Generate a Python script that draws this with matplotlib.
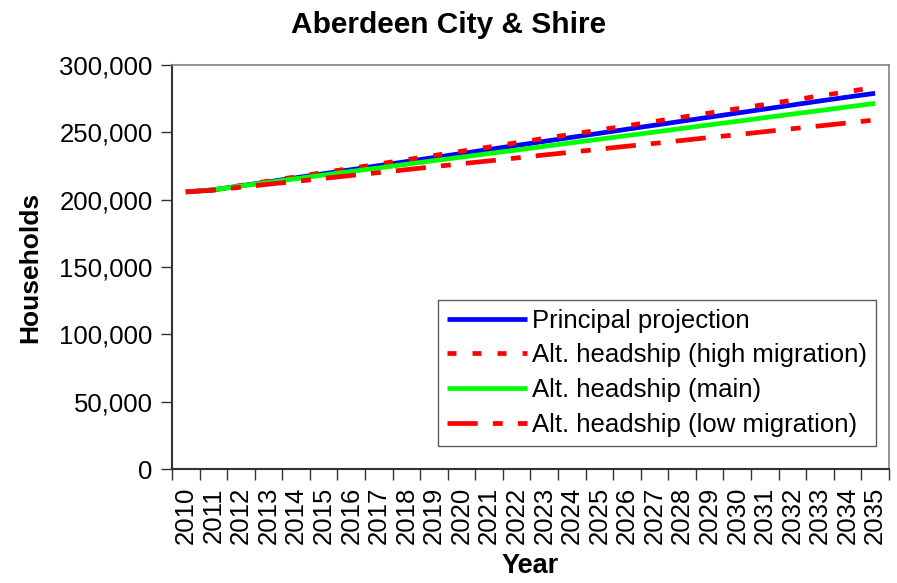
import matplotlib
matplotlib.use('Agg')
import matplotlib.pyplot as plt
import numpy as np

plt.rcParams['font.family'] = ['Liberation Sans', 'DejaVu Sans']

# Data
years = [str(y) for y in range(2010, 2036)]

principal = [205800, 207300, 210300, 213300, 216300, 219300, 222300, 225300,
             228300, 231300, 234300, 237300, 240300, 243300, 246300, 249300,
             252300, 255300, 258300, 261300, 264300, 267300, 270300, 273300,
             276200, 279000]
high_mig = [205800, 207300, 210600, 213800, 217000, 220200, 223300, 226500,
            229700, 232800, 236000, 239100, 242300, 245500, 248600, 251800,
            254900, 258100, 261300, 264400, 267600, 270700, 273900, 277100,
            280200, 283400]
main = [205800, 207300, 210200, 212900, 215600, 218300, 221000, 223600,
        226300, 229000, 231600, 234300, 236900, 239600, 242300, 244900,
        247600, 250200, 252900, 255600, 258200, 260900, 263600, 266200,
        268900, 271500]
low_mig = [205800, 207000, 209300, 211500, 213600, 215800, 218000, 220100,
           222300, 224500, 226700, 228800, 231000, 233200, 235300, 237500,
           239700, 241800, 244000, 246200, 248300, 250500, 252700, 254800,
           257000, 259200]

fig = plt.figure(figsize=(8.97, 5.83), dpi=100)
ax = fig.add_axes([0.1918, 0.1955, 0.7992, 0.693])

x = np.arange(len(years))
lw = 3.4
ax.plot(x, principal, color='#0000ff', lw=lw, label='Principal projection',
        solid_capstyle='butt')
ax.plot(x, high_mig, color='#ff0000', lw=lw, ls=(0, (1.9, 3.4)),
        label='Alt. headship (high migration)', dash_capstyle='butt')
ax.plot(x, main, color='#00ff00', lw=lw, label='Alt. headship (main)',
        solid_capstyle='butt')
ax.plot(x, low_mig, color='#ff0000', lw=lw, ls=(0, (6.4, 3.2, 2.1, 3.2)),
        label='Alt. headship (low migration)', dash_capstyle='butt')

ax.set_xlim(-0.5, len(years) - 0.5)
ax.set_ylim(0, 300000)
ax.set_yticks(np.arange(0, 300001, 50000))
ax.set_yticklabels([f'{v:,}' for v in range(0, 300001, 50000)])
ax.set_xticks(x)
ax.set_xticklabels(years, rotation=90)
ax.set_xticks(np.arange(-0.5, len(years)), minor=True)
ax.tick_params(axis='x', which='major', length=0, pad=13)
ax.tick_params(axis='x', which='minor', length=8, width=1, color='#333333')
ax.tick_params(axis='y', length=8, width=1, color='#333333', pad=6)
ax.tick_params(labelsize=18.5)

for s in ['top', 'right']:
    ax.spines[s].set_color('#808080')
    ax.spines[s].set_linewidth(1.2)
for s in ['left', 'bottom']:
    ax.spines[s].set_color('#333333')
    ax.spines[s].set_linewidth(1.5)

ax.set_ylabel('Households', fontsize=19, fontweight='bold', labelpad=12)
ax.set_xlabel('Year', fontsize=19.5, fontweight='bold', labelpad=6)
fig.text(0.5, 0.957, 'Aberdeen City & Shire', ha='center', va='center',
         fontsize=21.5, fontweight='bold')

leg = ax.legend(loc='lower right', bbox_to_anchor=(0.982, 0.057), fontsize=18.5,
                frameon=True, fancybox=False, edgecolor='#333333',
                handlelength=3.1, handletextpad=0.2, labelspacing=0.42,
                borderpad=0.35, borderaxespad=0)
leg.get_frame().set_linewidth(1.0)

fig.savefig('out.png', dpi=100)
